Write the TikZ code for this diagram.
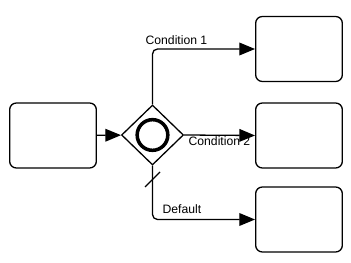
\documentclass[tikz,border=0pt]{standalone}
\usepackage{fontspec}
\setmainfont{Liberation Sans}
\usetikzlibrary{shapes.geometric,arrows.meta}

\begin{document}
\begin{tikzpicture}[x=0.03cm, y=-0.03cm, line width=1.1pt,
  every node/.style={font=\fontsize{10.4}{12}\selectfont},
  task/.style={draw, rounded corners=0.2cm, minimum width=2.6cm, minimum height=1.95cm},
  flow/.style={-{Triangle[length=0.47cm, width=0.38cm]}, rounded corners=0.15cm}]
\useasboundingbox (0,0) rectangle (351,263);
% Tasks
\node[task] (start) at (53,135.5) {};
\node[task] (taskA) at (299,49) {};
\node[task] (taskB) at (299,135.5) {};
\node[task] (taskC) at (299,219.5) {};
% Gateway
\node[draw, diamond, inner sep=0pt, minimum width=1.86cm, minimum height=1.8cm] (gw) at (152.5,135) {};
\node[draw, circle, inner sep=0pt, line width=3pt, minimum size=0.92cm] (ring) at (gw) {};
% Flows
\draw[flow] (start) -- (gw);
\draw[flow] (gw.north) |- (taskA.west);
\draw[flow] (gw.east) -- (taskB.west);
\draw[flow] (gw.south) |- (taskC.west);
% Default mark
\draw (145,187) -- (160,172);
% Labels
\node[anchor=base west, inner sep=0pt] (condA) at (145,45) {Condition 1};
\node[anchor=base west, inner sep=0pt] (condB) at (188,146) {Condition 2};
\node[anchor=base west, inner sep=0pt] (dflt) at (162,214) {Default};
\end{tikzpicture}
\end{document}
